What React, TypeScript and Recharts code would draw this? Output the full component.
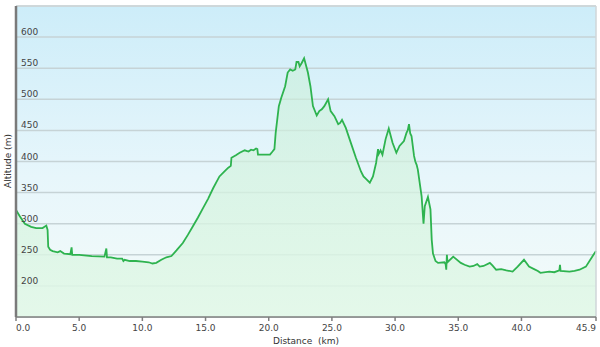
import React from 'react';
import { AreaChart, Area, XAxis, YAxis, CartesianGrid, ReferenceLine } from 'recharts';

const distanceKm = [
  0.0, 0.3, 0.7, 1.2, 1.6, 2.1, 2.4, 2.5, 2.55, 2.7, 2.9, 3.3, 3.5, 3.8, 4.3, 4.4, 4.45, 5.0, 6.0, 7.0,
  7.15, 7.2, 7.5, 8.0, 8.4, 8.5, 8.6, 9.0, 9.5, 10.0, 10.5, 10.8, 11.1, 11.5, 11.9, 12.3, 12.7, 13.2, 13.6, 14.0,
  14.4, 14.8, 15.2, 15.6, 16.1, 16.5, 16.8, 17.0, 17.05, 17.4, 17.7, 18.1, 18.4, 18.6, 18.8, 19.0, 19.1, 19.15, 19.6, 20.1,
  20.3, 20.45, 20.55, 20.8, 21.0, 21.3, 21.5, 21.7, 21.9, 22.1, 22.2, 22.35, 22.45, 22.6, 22.8, 23.1, 23.3, 23.5, 23.8, 24.0,
  24.2, 24.4, 24.7, 24.9, 25.2, 25.5, 25.65, 25.8, 26.1, 26.5, 26.9, 27.3, 27.5, 27.7, 28.0, 28.25, 28.5, 28.65, 28.7, 28.85,
  29.0, 29.25, 29.5, 29.8, 30.1, 30.35, 30.7, 30.9, 31.0, 31.1, 31.2, 31.3, 31.5, 31.6, 31.7, 31.8, 32.1, 32.25, 32.35, 32.6,
  32.8, 32.9, 33.0, 33.2, 33.4, 33.9, 34.0, 34.05, 34.1, 34.15, 34.6, 35.2, 35.5, 35.9, 36.2, 36.5, 36.7, 37.0, 37.5, 37.7,
  38.0, 38.4, 38.8, 39.3, 39.7, 40.2, 40.6, 41.0, 41.3, 41.5, 42.2, 42.6, 43.0, 43.05, 43.1, 43.8, 44.2, 44.6, 45.1, 45.6,
  45.9,
];

const altitudeM = [
  322, 312, 300, 295, 293, 293, 297, 290, 263, 258, 256, 254, 256, 252, 251, 262, 250, 250, 248, 247,
  260, 246, 246, 244, 244, 240, 242, 240, 240, 239, 238, 236, 237, 242, 246, 248, 257, 269, 282, 296,
  310, 325, 340, 357, 376, 384, 390, 393, 406, 410, 414, 418, 416, 419, 418, 421, 420, 411, 411, 411,
  416, 420, 446, 489, 503, 521, 543, 548, 546, 548, 560, 560, 553, 558, 566, 543, 521, 489, 474, 481,
  484, 489, 500, 481, 473, 460, 462, 467, 454, 430, 406, 384, 376, 372, 366, 376, 398, 420, 412, 418,
  411, 436, 453, 430, 414, 425, 433, 446, 450, 460, 445, 441, 409, 400, 395, 387, 344, 300, 328, 343,
  323, 274, 252, 240, 237, 238, 235, 226, 250, 238, 247, 237, 234, 231, 232, 235, 231, 232, 237, 233,
  226, 227, 225, 223, 231, 242, 231, 227, 224, 221, 223, 222, 225, 234, 224, 223, 224, 226, 231, 247,
  256,
];

const xTicks = [0, 5, 10, 15, 20, 25, 30, 35, 40, 45.9];
const yTicks = [200, 250, 300, 350, 400, 450, 500, 550, 600];
const yDomain = [150, 650];

const data = distanceKm.map((d, i) => ({ km: d, alt: altitudeM[i] }));

const FONT = '"DejaVu Sans", Verdana, sans-serif';

const renderYTick = (props: any) => {
  const { x, y, payload } = props;
  return (
    <text x={x + 5} y={y - 2} fontSize={9} fontFamily={FONT} fill="#444" textAnchor="start">
      {payload.value}
    </text>
  );
};

const renderXTick = (props: any) => {
  const { x, y, payload, index } = props;
  const last = xTicks.length - 1;
  const anchor = index === 0 ? 'start' : index === last ? 'end' : 'middle';
  return (
    <text x={x} y={y} dy={8} fontSize={9} fontFamily={FONT} fill="#444" textAnchor={anchor}>
      {Number(payload.value).toFixed(1)}
    </text>
  );
};

export default function App() {
  return (
    <div style={{ position: 'absolute', left: 0, top: 0, width: 600, height: 347, background: '#fff' }}>
      <AreaChart width={600} height={347} data={data} margin={{ top: 6, right: 4, bottom: 0, left: 14 }}>
        <defs>
          <linearGradient id="bgGrad" x1="0" y1="0" x2="0" y2="1">
            <stop offset="0%" stopColor="#cdedf9" />
            <stop offset="55%" stopColor="#e7f6fb" />
            <stop offset="100%" stopColor="#f4fbf9" />
          </linearGradient>
          <linearGradient id="areaGrad" x1="0" y1="0" x2="0" y2="1">
            <stop offset="0%" stopColor="#c9efd8" stopOpacity={0.55} />
            <stop offset="100%" stopColor="#e2f8e8" stopOpacity={0.9} />
          </linearGradient>
        </defs>
        <CartesianGrid vertical={false} stroke="#c6d3d6" strokeWidth={1.5} fill="url(#bgGrad)" />
        <XAxis
          dataKey="km"
          type="number"
          domain={[0, 45.9]}
          ticks={xTicks}
          interval={0}
          stroke="#7f7f7f"
          strokeWidth={1.5}
          tickSize={4}
          tickMargin={2}
          height={30}
          tick={renderXTick}
          label={{ value: 'Distance\u00a0 (km)', position: 'insideBottom', offset: 3, fontSize: 9, fontFamily: FONT, fill: '#333' }}
        />
        <YAxis
          type="number"
          domain={yDomain}
          ticks={yTicks}
          interval={0}
          width={2}
          tickSize={0}
          tickMargin={0}
          tickLine={false}
          axisLine={{ stroke: '#7a7a7a', strokeWidth: 2.5 }}
          tick={renderYTick}
        />
        <ReferenceLine y={650} stroke="#cfd6d8" strokeWidth={1.5} />
        <ReferenceLine x={45.9} stroke="#cfd6d8" strokeWidth={1.5} />
        <Area
          type="linear"
          dataKey="alt"
          stroke="#2eb34f"
          strokeWidth={1.8}
          fill="url(#areaGrad)"
          fillOpacity={1}
          isAnimationActive={false}
          dot={false}
          activeDot={false}
        />
      </AreaChart>
      <div
        style={{
          position: 'absolute',
          left: 8,
          top: 161,
          transform: 'translate(-50%, -50%) rotate(-90deg)',
          fontFamily: FONT,
          fontSize: 9,
          color: '#333',
          whiteSpace: 'nowrap',
          lineHeight: '10px',
        }}
      >
        Altitude (m)
      </div>
    </div>
  );
}
